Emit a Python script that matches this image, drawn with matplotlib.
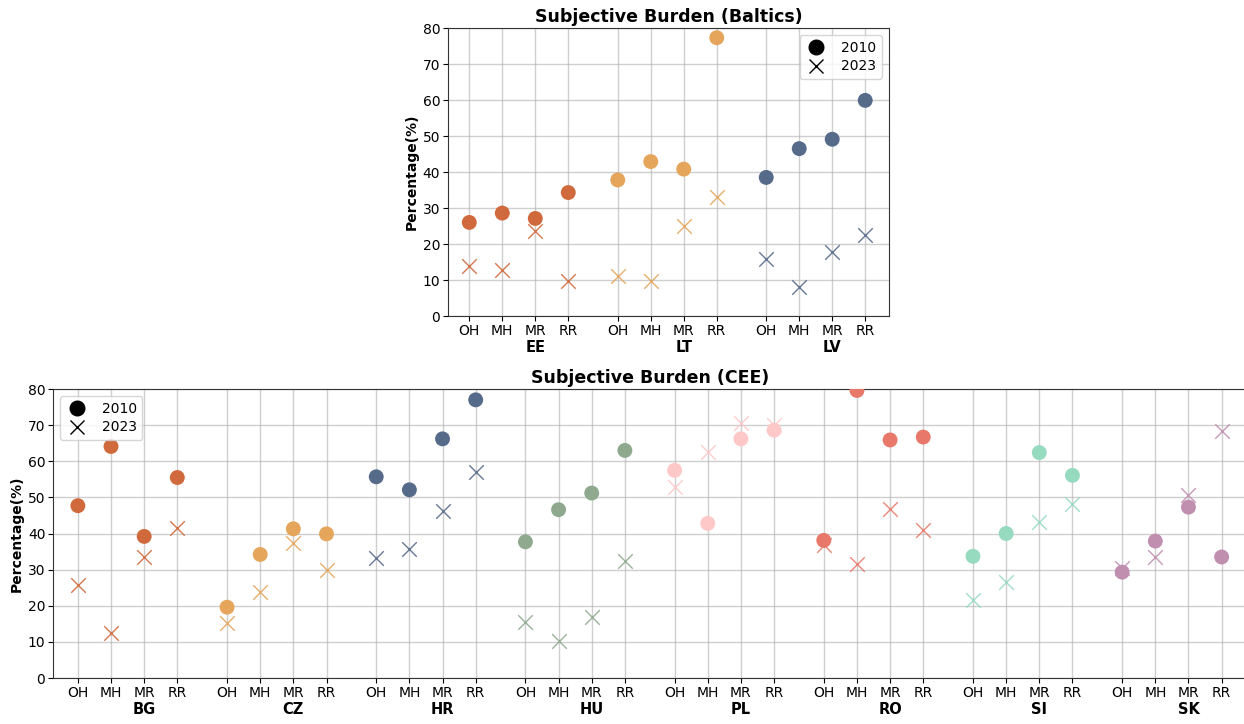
import matplotlib
matplotlib.use("Agg")
import matplotlib.pyplot as plt
from matplotlib.lines import Line2D
import matplotlib.transforms as mtransforms

indicators = ["OH", "MH", "MR", "RR"]

baltic_countries = ["EE", "LT", "LV"]
baltic_2010 = {
    "EE": [26.0, 28.6, 27.1, 34.3],
    "LT": [37.8, 42.9, 40.8, 77.3],
    "LV": [38.5, 46.5, 49.1, 59.9],
}
baltic_2023 = {
    "EE": [13.8, 12.9, 23.6, 9.8],
    "LT": [11.2, 9.6, 24.9, 33.0],
    "LV": [15.9, 8.0, 17.7, 22.5],
}

cee_countries = ["BG", "CZ", "HR", "HU", "PL", "RO", "SI", "SK"]
cee_2010 = {
    "BG": [47.7, 64.1, 39.2, 55.5],
    "CZ": [19.6, 34.2, 41.3, 39.9],
    "HR": [55.7, 52.1, 66.2, 77.0],
    "HU": [37.7, 46.6, 51.2, 63.0],
    "PL": [57.5, 42.8, 66.2, 68.6],
    "RO": [38.1, 79.6, 65.9, 66.7],
    "SI": [33.7, 40.0, 62.4, 56.1],
    "SK": [29.3, 37.9, 47.3, 33.5],
}
cee_2023 = {
    "BG": [25.8, 12.5, 33.4, 41.5],
    "CZ": [15.2, 23.7, 37.5, 29.8],
    "HR": [33.3, 35.6, 46.3, 57.1],
    "HU": [15.5, 10.3, 16.8, 32.4],
    "PL": [53.0, 62.6, 70.5, 70.0],
    "RO": [36.9, 31.7, 46.8, 41.1],
    "SI": [21.5, 26.7, 43.2, 48.2],
    "SK": [30.4, 33.4, 50.7, 68.4],
}

palette = ["#d0693c", "#e5a55a", "#566a8a", "#8fa98f", "#ffc8c8",
           "#e8796a", "#96dac0", "#c08fb0"]
baltic_colors = {"EE": palette[0], "LT": palette[1], "LV": palette[2]}
cee_colors = dict(zip(cee_countries, palette))


def draw(ax, countries, v2010, v2023, colors, title, legend_loc, xlim):
    ticks, labels = [], []
    trans = mtransforms.blended_transform_factory(ax.transData, ax.transAxes)
    for g, c in enumerate(countries):
        pos = [g * 4.5 + i for i in range(len(indicators))]
        ax.scatter(pos, v2023[c], marker="x", s=110, color=colors[c],
                   linewidths=1.0, alpha=0.9, zorder=2)
        ax.scatter(pos, v2010[c], marker="o", s=115, color=colors[c],
                   zorder=3, edgecolors="none")
        ticks += pos
        labels += indicators
        ax.text(pos[2], -0.083, c, transform=trans, ha="center", va="top",
                fontsize=10.5, fontweight="bold")
    ax.set_xticks(ticks)
    ax.set_xticklabels(labels, fontsize=10)
    ax.set_ylim(0, 80)
    ax.set_yticks(range(0, 81, 10))
    ax.tick_params(axis="both", labelsize=10, pad=2)
    ax.set_xlim(*xlim)
    ax.grid(True, color="#b0b0b0", linewidth=1.0, alpha=0.6)
    ax.set_axisbelow(True)
    for sp in ax.spines.values():
        sp.set_color("#333333")
    ax.set_ylabel("Percentage(%)", fontsize=10, fontweight="bold", labelpad=3)
    ax.set_title(title, fontsize=12.5, fontweight="bold", pad=4)
    handles = [
        Line2D([], [], marker="o", linestyle="none", color="black", markersize=10.5, label="2010"),
        Line2D([], [], marker="x", linestyle="none", color="black", markersize=10.5, label="2023"),
    ]
    ax.legend(handles=handles, loc=legend_loc, fontsize=10, labelspacing=0.35,
              handletextpad=1.0, handlelength=1.6)


fig = plt.figure(figsize=(12.44, 7.24), dpi=100)
ax1 = fig.add_axes([0.360, 0.5635, 0.3546, 0.3978])
ax2 = fig.add_axes([0.0426, 0.0635, 0.9594, 0.3992])

draw(ax1, baltic_countries, baltic_2010, baltic_2023, baltic_colors,
     "Subjective Burden (Baltics)", "upper right", (-0.65, 12.72))
draw(ax2, cee_countries, cee_2010, cee_2023, cee_colors,
     "Subjective Burden (CEE)", "upper left", (-0.75, 35.25))

fig.savefig("out.png", dpi=100)
